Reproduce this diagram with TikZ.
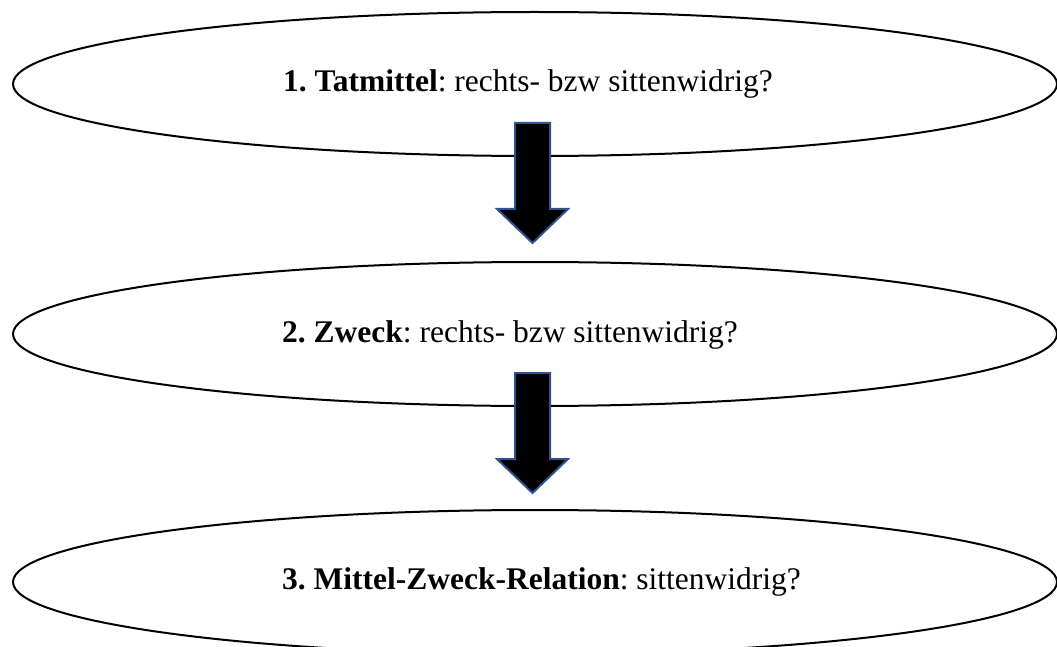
\documentclass[tikz,border=0pt]{standalone}
\usepackage{fontspec}
\setmainfont{Liberation Serif}
\usetikzlibrary{shapes.geometric}
\definecolor{arrowborder}{RGB}{47,82,143}
\tikzset{
  stage/.style={draw=black, line width=2pt, ellipse, minimum width=1044pt, minimum height=144pt, inner sep=0pt},
  stagetext/.style={anchor=base west, font=\fontsize{31.5}{36}\selectfont, inner sep=0pt},
  blockarrow/.style={fill=black, draw=arrowborder, line width=2pt, line join=miter},
  downarrow/.pic={
    \draw[blockarrow] (-17.5,0) -- ++(35,0) -- ++(0,86) -- ++(18,0) -- ++(-35.5,34) -- ++(-35.5,-34) -- ++(18,0) -- cycle;
  }
}
\begin{document}
\frenchspacing
\begin{tikzpicture}[x=1pt,y=-1pt]
\useasboundingbox (0,0) rectangle (1057,647);
\clip (0,0) rectangle (1057,647);
\node[stage] (e1) at (535,84) {};
\node[stage] (e2) at (535,334) {};
\node[stage] (e3) at (535,582) {};
\pic at (532.5,123) {downarrow};
\pic at (532.5,373) {downarrow};
\node[stagetext] (t1) at (283,92) {\textbf{1. Tatmittel}: rechts- bzw sittenwidrig?};
\node[stagetext] (t2) at (282,342) {\textbf{2. Zweck}: rechts- bzw sittenwidrig?};
\node[stagetext] (t3) at (282,589) {\textbf{3. Mittel-Zweck-Relation}: sittenwidrig?};
\end{tikzpicture}
\end{document}
